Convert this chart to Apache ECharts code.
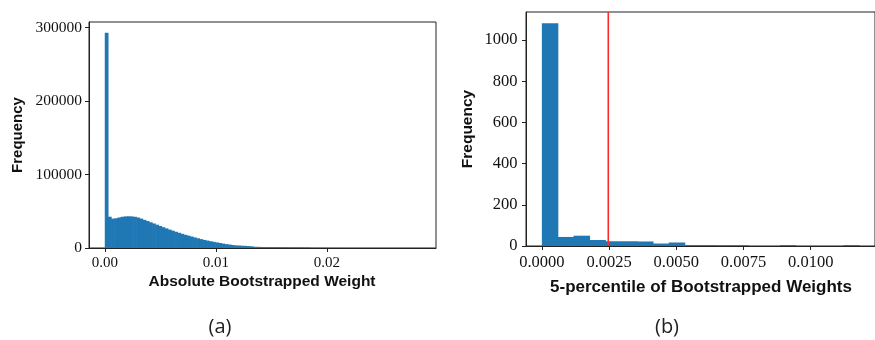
<!DOCTYPE html>
<html>
<head>
<meta charset="utf-8">
<script src="https://cdn.jsdelivr.net/npm/echarts@6/dist/echarts.min.js"></script>
<style>
html,body{margin:0;padding:0;background:#fff;}
#chart{width:875px;height:340px;}
</style>
</head>
<body>
<div id="chart"></div>
<script>
// ---- Data ----
// Left histogram: absolute bootstrapped weights, 100 equal bins from leftRange[0] to leftRange[1]
var leftRange = [0, 0.0284];
var leftCounts = [
  293000, 42600, 40000, 40500, 41500, 42500, 43000, 43200, 43000, 42500,
  41500, 40000, 38300, 36700, 35000, 33400, 31700, 30000, 28300, 26700,
  25100, 23600, 22100, 20700, 19300, 18000, 16800, 15600, 14400, 13200,
  12100, 11000, 10100, 9200, 8400, 7600, 6800, 6000, 5300, 4700,
  4100, 3600, 3400, 3100, 2900, 2600, 2300, 1700, 1550, 1450,
  1400, 1350, 1300, 1250, 1200, 1150, 1100, 1050, 1000, 950,
  900, 850, 800, 760, 720, 300, 260, 230, 200, 180,
  160, 140, 120, 110, 100, 90, 80, 70, 60, 55,
  50, 45, 40, 35, 30, 26, 22, 19, 16, 14,
  12, 10, 8, 6, 5, 4, 3, 2, 2, 1
];
var leftXTicks = [0, 0.01, 0.02];
var leftYTicks = [0, 100000, 200000, 300000];

// Right histogram: 5-percentile of bootstrapped weights, 20 equal bins
var rightRange = [0, 0.0118];
var rightCounts = [1082, 44, 50, 29, 23, 23, 22, 12, 17, 5, 5, 4, 4, 0, 0, 5, 0, 0, 0, 5];
var rightXTicks = [0, 0.0025, 0.005, 0.0075, 0.01];
var rightYTicks = [0, 200, 400, 600, 800, 1000];
var threshold = 0.00247;

var leftXTitle = 'Absolute Bootstrapped Weight';
var rightXTitle = '5-percentile of Bootstrapped Weights';
var yTitle = 'Frequency';
var captions = ['(a)', '(b)'];

// ---- Build ----
function bins(range, counts) {
  var w = (range[1] - range[0]) / counts.length;
  return counts.map(function (c, i) { return [range[0] + i * w, range[0] + (i + 1) * w, c]; });
}
function pad(range, f) { var r = range[1] - range[0]; return [range[0] - f * r, range[1] + f * r]; }
function ymax(counts) { return Math.max.apply(null, counts) * 1.05; }

var barColor = '#1f77b4';
function renderBar(params, api) {
  var p0 = api.coord([api.value(0), api.value(2)]);
  var p1 = api.coord([api.value(1), 0]);
  var h = p1[1] - p0[1];
  if (h <= 0) return null;
  // slight overlap so adjacent bins show no anti-aliasing seams
  return { type: 'rect', shape: { x: p0[0], y: p0[1], width: p1[0] - p0[0] + 0.6, height: h },
           style: { fill: barColor } };
}

var lx = pad(leftRange, 0.05), rx = pad(rightRange, 0.05);
var lyMax = ymax(leftCounts), ryMax = ymax(rightCounts);
var axisCol = '#222';
var serif = 'Liberation Serif';
var sans = 'Liberation Sans';

function xAxisOpt(idx, ext, ticks, digits, fs, margin) {
  return {
    type: 'value', gridIndex: idx, min: ext[0], max: ext[1],
    axisLine: { show: true, onZero: false, lineStyle: { color: axisCol, width: 1 } },
    axisTick: { show: true, length: 4, customValues: ticks, lineStyle: { color: axisCol } },
    axisLabel: { customValues: ticks, margin: margin, color: '#111', fontFamily: serif, fontSize: fs,
                 formatter: function (v) { return v.toFixed(digits); } },
    splitLine: { show: false }
  };
}
function yAxisOpt(idx, mx, ticks, fs, margin) {
  return {
    type: 'value', gridIndex: idx, min: 0, max: mx,
    axisLine: { show: true, onZero: false, lineStyle: { color: axisCol, width: 1 } },
    axisTick: { show: true, length: 4, customValues: ticks, lineStyle: { color: axisCol } },
    axisLabel: { customValues: ticks, margin: margin, color: '#111', fontFamily: serif, fontSize: fs,
                 formatter: function (v) { return String(Math.round(v)); } },
    splitLine: { show: false }
  };
}

var chart = echarts.init(document.getElementById('chart'), null, { renderer: 'canvas' });
chart.setOption({
  animation: false,
  backgroundColor: '#fff',
  grid: [
    { left: 89, top: 22, width: 347, height: 226, show: true, borderColor: axisCol, borderWidth: 1, containLabel: false },
    { left: 526, top: 12, width: 358, height: 234, show: true, borderColor: axisCol, borderWidth: 1, containLabel: false }
  ],
  xAxis: [
    xAxisOpt(0, lx, leftXTicks, 2, 15, 8),
    xAxisOpt(1, rx, rightXTicks, 4, 16.5, 8.5)
  ],
  yAxis: [
    yAxisOpt(0, lyMax, leftYTicks, 15.5, 7),
    yAxisOpt(1, ryMax, rightYTicks, 16.5, 8.5)
  ],
  series: [
    { type: 'custom', xAxisIndex: 0, yAxisIndex: 0, renderItem: renderBar, data: bins(leftRange, leftCounts),
      encode: { x: [0, 1], y: 2 } },
    { type: 'custom', xAxisIndex: 1, yAxisIndex: 1, renderItem: renderBar, data: bins(rightRange, rightCounts),
      encode: { x: [0, 1], y: 2 } },
    { type: 'line', xAxisIndex: 1, yAxisIndex: 1, data: [[threshold, 0], [threshold, ryMax]],
      symbol: 'none', silent: true, z: 5,
      lineStyle: { color: '#ff2a2a', width: 1.6 } }
  ],
  graphic: [
    { type: 'text', x: 262, y: 282, style: { text: leftXTitle, font: 'bold 15.5px "' + sans + '"', fill: '#111', align: 'center', verticalAlign: 'middle' } },
    { type: 'text', x: 701, y: 287, style: { text: rightXTitle, font: 'bold 17px "' + sans + '"', fill: '#111', align: 'center', verticalAlign: 'middle' } },
    { type: 'text', x: 18, y: 135, rotation: Math.PI / 2, style: { text: yTitle, font: 'bold 15px "' + sans + '"', fill: '#111', align: 'center', verticalAlign: 'middle' } },
    { type: 'text', x: 468, y: 129, rotation: Math.PI / 2, style: { text: yTitle, font: 'bold 15.5px "' + sans + '"', fill: '#111', align: 'center', verticalAlign: 'middle' } },
    { type: 'text', x: 220, y: 327, style: { text: captions[0], font: '20px "Open Sans"', fill: '#222', align: 'center', verticalAlign: 'middle' } },
    { type: 'text', x: 667, y: 327, style: { text: captions[1], font: '20px "Open Sans"', fill: '#222', align: 'center', verticalAlign: 'middle' } }
  ]
});
</script>
</body>
</html>
